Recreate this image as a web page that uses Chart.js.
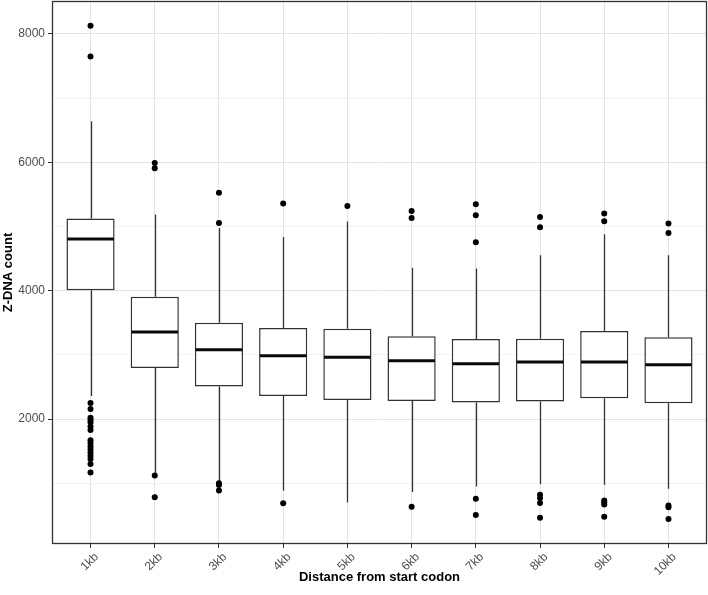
<!DOCTYPE html>
<html><head><meta charset="utf-8">
<script src="https://cdn.jsdelivr.net/npm/chart.js@4.4.1/dist/chart.umd.min.js"></script>
<style>html,body{margin:0;padding:0;background:#fff;}#wrap{width:708px;height:595px;position:relative;}</style>
</head><body><div id="wrap"><canvas id="c"></canvas></div>
<script>
const categories = ['1kb','2kb','3kb','4kb','5kb','6kb','7kb','8kb','9kb','10kb'];
const q1 = [4009, 2797, 2507, 2362, 2300, 2284, 2258, 2274, 2326, 2248];
const median = [4807, 3357, 3082, 2989, 2963, 2911, 2864, 2890, 2890, 2849];
const q3 = [5124, 3905, 3502, 3419, 3408, 3289, 3248, 3253, 3372, 3274];
const whiskerLow = [2362, 1150, 1020, 886, 704, 865, 953, 989, 979, 917];
const whiskerHigh = [6640, 5185, 4975, 4838, 5077, 4356, 4346, 4553, 4880, 4553];
const outliers = [
  [8127, 7646, 2250, 2160, 2020, 1990, 1950, 1885, 1830, 1670, 1630, 1580, 1530, 1480, 1430, 1380, 1300, 1170],
  [5988, 5905, 1124, 782],
  [5527, 5055, 1000, 975, 890],
  [5356, 689],
  [5320],
  [5242, 5133, 637],
  [5346, 5175, 4755, 761, 508],
  [5149, 4988, 824, 772, 694, 466],
  [5201, 5082, 735, 705, 670, 482],
  [5045, 4900, 655, 630, 446]
];
const yMajorTicks = [2000, 4000, 6000, 8000];
const yMinorTicks = [1000, 3000, 5000, 7000];
const yMin = 56, yMax = 8511;
const xMin = 0.4, xMax = 10.6;

const boxData = categories.map((c, i) => ({x: i + 1, y: [q1[i], q3[i]]}));
const outlierData = [];
outliers.forEach((arr, i) => arr.forEach(v => outlierData.push({x: i + 1, y: v})));

const FONT = "'Liberation Sans', Arial, Helvetica, sans-serif";

const boxExtras = {
  id: 'boxExtras',
  beforeDatasetsDraw(chart) {
    const {ctx, scales: {x, y}} = chart;
    ctx.save();
    ctx.strokeStyle = '#333333';
    ctx.lineWidth = 1.3;
    categories.forEach((c, i) => {
      const px = Math.round(x.getPixelForValue(i + 1)) + 0.5;
      ctx.beginPath();
      ctx.moveTo(px, y.getPixelForValue(whiskerHigh[i]));
      ctx.lineTo(px, y.getPixelForValue(q3[i]));
      ctx.moveTo(px, y.getPixelForValue(q1[i]));
      ctx.lineTo(px, y.getPixelForValue(whiskerLow[i]));
      ctx.stroke();
    });
    ctx.restore();
  },
  afterDatasetsDraw(chart) {
    const {ctx, scales: {y}} = chart;
    const meta = chart.getDatasetMeta(0);
    ctx.save();
    ctx.strokeStyle = '#0a0a0a';
    ctx.lineWidth = 3;
    meta.data.forEach((bar, i) => {
      const half = bar.width / 2;
      const py = y.getPixelForValue(median[i]);
      ctx.beginPath();
      ctx.moveTo(bar.x - half + 0.8, py);
      ctx.lineTo(bar.x + half - 0.8, py);
      ctx.stroke();
    });
    ctx.restore();
  },
  afterDraw(chart) {
    const {ctx, chartArea: a} = chart;
    ctx.save();
    ctx.strokeStyle = '#333333';
    ctx.lineWidth = 1.3;
    ctx.strokeRect(a.left + 0.5, a.top + 0.5, a.right - a.left - 1, a.bottom - a.top - 1);
    ctx.restore();
  }
};

new Chart(document.getElementById('c'), {
  type: 'bar',
  data: {
    datasets: [
      {
        type: 'bar',
        data: boxData,
        backgroundColor: '#ffffff',
        borderColor: '#333333',
        borderWidth: 1.5,
        borderSkipped: false,
        categoryPercentage: 0.75,
        barPercentage: 1.0
      },
      {
        type: 'scatter',
        data: outlierData,
        backgroundColor: '#000000',
        borderWidth: 0,
        pointRadius: 3,
        pointHoverRadius: 3
      }
    ]
  },
  options: {
    responsive: true,
    maintainAspectRatio: false,
    animation: false,
    layout: {autoPadding: false, padding: {left: 0, right: 1, top: 1, bottom: 0}},
    plugins: {legend: {display: false}, tooltip: {enabled: false}},
    scales: {
      x: {
        type: 'linear',
        min: xMin,
        max: xMax,
        offset: false,
        afterBuildTicks(scale) { scale.ticks = categories.map((c, i) => ({value: i + 1})); },
        afterFit(scale) { scale.height = 51; scale.paddingLeft = 0; scale.paddingRight = 0; },
        ticks: {
          autoSkip: false,
          maxRotation: 45,
          minRotation: 45,
          padding: 2,
          labelOffset: 6,
          color: '#4d4d4d',
          font: {family: FONT, size: 12},
          callback: (v) => categories[Math.round(v) - 1]
        },
        grid: {
          offset: false,
          color: '#e4e4e4',
          lineWidth: 1,
          tickLength: 4,
          tickColor: '#333333'
        },
        border: {display: false},
        title: {
          display: true,
          text: 'Distance from start codon',
          color: '#000000',
          font: {family: FONT, size: 13, weight: 'bold'},
          padding: {top: 2, bottom: 10}
        }
      },
      y: {
        type: 'linear',
        min: yMin,
        max: yMax,
        afterBuildTicks(scale) {
          scale.ticks = yMinorTicks.concat(yMajorTicks).sort((a, b) => a - b).map(v => ({value: v}));
        },
        afterFit(scale) { scale.width = 52; scale.paddingTop = 0; scale.paddingBottom = 0; },
        ticks: {
          padding: 3,
          color: '#4d4d4d',
          font: {family: FONT, size: 12},
          callback: (v) => yMajorTicks.includes(v) ? String(v) : ''
        },
        grid: {
          color: (ctx) => (ctx.tick && yMajorTicks.includes(ctx.tick.value)) ? '#e4e4e4' : '#efefef',
          lineWidth: (ctx) => (ctx.tick && yMajorTicks.includes(ctx.tick.value)) ? 1 : 0.8,
          tickLength: 4,
          tickColor: (ctx) => (ctx.tick && yMajorTicks.includes(ctx.tick.value)) ? '#333333' : 'rgba(0,0,0,0)'
        },
        border: {display: false},
        title: {
          display: true,
          text: 'Z-DNA count',
          color: '#000000',
          font: {family: FONT, size: 13, weight: 'bold'},
          padding: {top: 1, bottom: 2}
        }
      }
    }
  },
  plugins: [boxExtras]
});
</script>
</body></html>
